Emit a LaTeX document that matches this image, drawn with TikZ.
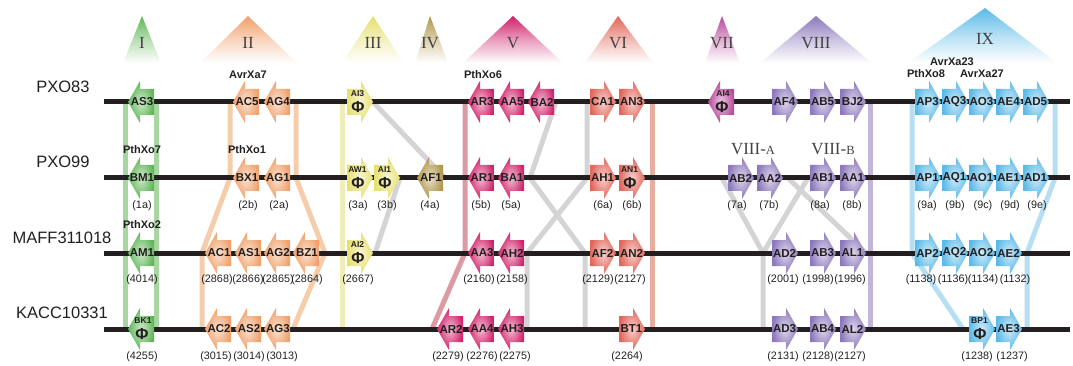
\documentclass[tikz,border=0pt]{standalone}
\usepackage{fontspec}
\setmainfont{Liberation Sans}
\newfontfamily\romfont{Liberation Serif}
\definecolor{gI}{HTML}{5FB656}
\definecolor{gII}{HTML}{F0A06A}
\definecolor{gIII}{HTML}{E6E070}
\definecolor{gIV}{HTML}{B0964A}
\definecolor{gV}{HTML}{D0226A}
\definecolor{gVI}{HTML}{E2665A}
\definecolor{gVII}{HTML}{B8489A}
\definecolor{gVIII}{HTML}{8C78BC}
\definecolor{gIX}{HTML}{5CBAE8}
\definecolor{bI}{HTML}{A8D6A0}
\definecolor{bII}{HTML}{F6CDAA}
\definecolor{bIII}{HTML}{F0EDB8}
\definecolor{bV}{HTML}{DB9AA4}
\definecolor{bVI}{HTML}{E6AE9E}
\definecolor{bVIII}{HTML}{C2B4DA}
\definecolor{bIX}{HTML}{B6DFF3}
\definecolor{bgray}{HTML}{D4D4D6}
\definecolor{txt}{HTML}{231F20}
\definecolor{chromc}{HTML}{231F20}
\tikzset{
  genetext/.style={font=\fontsize{11.5}{13}\selectfont\bfseries, text=txt, inner sep=0pt},
  pstext/.style={font=\fontsize{8.5}{9}\selectfont\bfseries, text=txt, inner sep=0pt},
  phitext/.style={font=\fontsize{16}{17}\selectfont\bfseries, text=txt, inner sep=0pt},
  numtext/.style={font=\fontsize{10.8}{12}\selectfont, text=txt, inner sep=0pt},
  toptext/.style={font=\fontsize{11}{12}\selectfont\bfseries, text=txt, inner sep=0pt},
  strain/.style={font=\fontsize{16.5}{18}\selectfont, text=txt, inner sep=0pt},
  roman/.style={font=\romfont\fontsize{17}{18}\selectfont, text=txt!85, inner sep=0pt},
  chrom/.style={line width=5pt, draw=chromc},
  bandline/.style={line width=5pt, draw=#1, line join=miter},
}
% left-pointing gene: name, tip x, y, colour
\newcommand\gL[4]{%
  \shade[inner color=#4!30!white, outer color=#4] (#2,#3) -- ++(12,-21) -- ++(0,8) -- ++(14,0) -- ++(0,26) -- ++(-14,0) -- ++(0,8) -- cycle;
  \node[genetext] (g-#1) at (#2+14,#3) {#1};}
% right-pointing gene: name, tail x, y, colour
\newcommand\gR[4]{%
  \shade[inner color=#4!30!white, outer color=#4] (#2,#3-13) -- ++(14,0) -- ++(0,-8) -- ++(12,21) -- ++(-12,21) -- ++(0,-8) -- ++(-14,0) -- cycle;
  \node[genetext] (g-#1) at (#2+12.5,#3) {#1};}
% pseudogenes
\newcommand\pL[4]{%
  \shade[inner color=#4!30!white, outer color=#4] (#2,#3) -- ++(12,-21) -- ++(0,8) -- ++(14,0) -- ++(0,26) -- ++(-14,0) -- ++(0,8) -- cycle;
  \node[pstext] (g-#1) at (#2+15,#3-8) {#1};
  \node[phitext] (phi-#1) at (#2+14,#3+5) {Φ};}
\newcommand\pR[4]{%
  \shade[inner color=#4!30!white, outer color=#4] (#2,#3-13) -- ++(14,0) -- ++(0,-8) -- ++(12,21) -- ++(-12,21) -- ++(0,-8) -- ++(-14,0) -- cycle;
  \node[pstext] (g-#1) at (#2+10.5,#3-8) {#1};
  \node[phitext] (phi-#1) at (#2+11,#3+5) {Φ};}
\begin{document}
\begin{tikzpicture}[x=1pt,y=-1pt]
\useasboundingbox (0,0) rectangle (1073,366);
% ---------- cluster triangles ----------
\foreach \c/\ax/\ay/\bl/\br/\lab/\ly in {
  gI/142/16/123/161/I/43, gII/248/16/200/297/II/43, gIII/373/16/342/404/III/43,
  gIV/430/16/415/448/IV/43, gV/513/16/463/563/V/43, gVI/618/16/585/653/VI/43,
  gVII/722/16/705/740/VII/43, gVIII/816/16/760/872/VIII/43, gIX/985/8/908/1057/IX/39}{
  \shade[top color=\c, bottom color=white, middle color=\c!45!white] (\ax,\ay) -- (\br,63) -- (\bl,63) -- cycle;
  \node[roman] (tri-\lab) at (\ax,\ly) {\lab};
}
% ---------- coordinates for bands ----------
\coordinate (gIa1) at (125.5,102); \coordinate (gIa2) at (125.5,329);
\coordinate (gIb1) at (156.5,102); \coordinate (gIb2) at (156.5,329);
\coordinate (oa1) at (230,102); \coordinate (oa2) at (230,178); \coordinate (oa3) at (202,253); \coordinate (oa4) at (202,329);
\coordinate (ob1) at (296,102); \coordinate (ob2) at (296,178); \coordinate (ob3) at (325,253); \coordinate (ob4) at (293,329);
\coordinate (ya1) at (342,102); \coordinate (ya2) at (342,329);
\coordinate (ga1) at (373,102); \coordinate (ga2) at (445,178);
\coordinate (gb1) at (400,178); \coordinate (gb2) at (375,253);
\coordinate (pa1) at (465,102); \coordinate (pa2) at (465,253); \coordinate (pa3) at (432,329);
\coordinate (gc1) at (556,102); \coordinate (gc2) at (530,178); \coordinate (gc3) at (585,253); \coordinate (gc4) at (585,329);
\coordinate (gd1) at (587,102); \coordinate (gd2) at (587,178); \coordinate (gd3) at (527,253); \coordinate (gd4) at (527,329);
\coordinate (sa1) at (652,102); \coordinate (sa2) at (652,329);
\coordinate (va1) at (870,102); \coordinate (va2) at (870,329);
\coordinate (ge1) at (722,178); \coordinate (ge2) at (763,253); \coordinate (ge3) at (763,329);
\coordinate (gf1) at (808,178);
\coordinate (gg1) at (788,178); \coordinate (gg2) at (866,253);
\coordinate (ba1) at (912,102); \coordinate (ba2) at (912,253); \coordinate (ba3) at (963,329);
\coordinate (bb1) at (1055,102); \coordinate (bb2) at (1055,178); \coordinate (bb3) at (1027,253); \coordinate (bb4) at (1027,329);
% ---------- band lines ----------
\draw[bandline=bI] (gIa1) -- (gIa2);
\draw[bandline=bI] (gIb1) -- (gIb2);
\draw[bandline=bII] (oa1) -- (oa2) -- (oa3) -- (oa4);
\draw[bandline=bII] (ob1) -- (ob2) -- (ob3) -- (ob4);
\draw[bandline=bIII] (ya1) -- (ya2);
\draw[bandline=bgray] (ga1) -- (ga2);
\draw[bandline=bgray] (gb1) -- (gb2);
\draw[bandline=bV] (pa1) -- (pa2) -- (pa3);
\draw[bandline=bgray] (gc1) -- (gc2) -- (gc3) -- (gc4);
\draw[bandline=bgray] (gd1) -- (gd2) -- (gd3) -- (gd4);
\draw[bandline=bVI] (sa1) -- (sa2);
\draw[bandline=bVIII] (va1) -- (va2);
\draw[bandline=bgray] (ge1) -- (ge2) -- (ge3);
\draw[bandline=bgray] (gf1) -- (ge2);
\draw[bandline=bgray] (gg1) -- (gg2);
\draw[bandline=bIX] (ba1) -- (ba2) -- (ba3);
\draw[bandline=bIX] (bb1) -- (bb2) -- (bb3) -- (bb4);
% ---------- chromosomes ----------
\foreach \r/\y in {1/102, 2/178, 3/253, 4/329}{
  \coordinate (s\r) at (104,\y); \coordinate (e\r) at (1070,\y);
  \draw[chrom] (s\r) -- (e\r);
}
% ---------- strain names ----------
\node[strain] (PXO83) at (63,87) {PXO83};
\node[strain] (PXO99) at (63,162) {PXO99};
\node[strain] (MAFF) at (62,238) {MAFF311018};
\node[strain] (KACC) at (62,313) {KACC10331};
% ---------- row 1 ----------
\gL{AS3}{128}{102}{gI}
\foreach \n/\x in {AC5/233, AG4/264} {\gL{\n}{\x}{102}{gII}}
\pR{AI3}{347}{102}{gIII}
\foreach \n/\x in {AR3/468, AA5/498, BA2/528} {\gL{\n}{\x}{102}{gV}}
\foreach \n/\x in {CA1/590, AN3/619} {\gR{\n}{\x}{102}{gVI}}
\pL{AI4}{708}{102}{gVII}
\foreach \n/\x in {AF4/772, AB5/810, BJ2/840} {\gR{\n}{\x}{102}{gVIII}}
\foreach \n/\x in {AP3/915, AQ3/942, AO3/969, AE4/996, AD5/1023} {\gR{\n}{\x}{102}{gIX}}
% ---------- row 2 ----------
\gL{BM1}{128}{178}{gI}
\foreach \n/\x in {BX1/233, AG1/264} {\gL{\n}{\x}{178}{gII}}
\pR{AW1}{347}{178}{gIII}
\pR{AI1}{374}{178}{gIII}
\gL{AF1}{417}{178}{gIV}
\foreach \n/\x in {AR1/468, BA1/498} {\gL{\n}{\x}{178}{gV}}
\gR{AH1}{590}{178}{gVI}
\pR{AN1}{619}{178}{gVI}
\foreach \n/\x in {AB2/728, AA2/757, AB1/810, AA1/840} {\gR{\n}{\x}{178}{gVIII}}
\foreach \n/\x in {AP1/915, AQ1/942, AO1/969, AE1/996, AD1/1023} {\gR{\n}{\x}{178}{gIX}}
% ---------- row 3 ----------
\gL{AM1}{128}{253}{gI}
\foreach \n/\x in {AC1/205, AS1/235, AG2/264, BZ1/293} {\gL{\n}{\x}{253}{gII}}
\pR{AI2}{347}{253}{gIII}
\foreach \n/\x in {AA3/468, AH2/498} {\gL{\n}{\x}{253}{gV}}
\foreach \n/\x in {AF2/590, AN2/619} {\gR{\n}{\x}{253}{gVI}}
\foreach \n/\x in {AD2/772, AB3/810, AL1/840} {\gR{\n}{\x}{253}{gVIII}}
\foreach \n/\x in {AP2/915, AQ2/942, AO2/969, AE2/996} {\gR{\n}{\x}{253}{gIX}}
% ---------- row 4 ----------
\pL{BK1}{128}{329}{gI}
\foreach \n/\x in {AC2/205, AS2/235, AG3/264} {\gL{\n}{\x}{329}{gII}}
\foreach \n/\x in {AR2/437, AA4/468, AH3/498} {\gL{\n}{\x}{329}{gV}}
\gR{BT1}{619}{329}{gVI}
\foreach \n/\x in {AD3/772, AB4/810, AL2/840} {\gR{\n}{\x}{329}{gVIII}}
\pR{BP1}{969}{329}{gIX}
\gR{AE3}{996}{329}{gIX}
% ---------- effector names ----------
\node[toptext] (AvrXa7) at (248,75) {AvrXa7};
\node[toptext] (PthXo6) at (483,75) {PthXo6};
\node[toptext] (AvrXa23) at (952,62) {AvrXa23};
\node[toptext] (PthXo8) at (926,74) {PthXo8};
\node[toptext] (AvrXa27) at (982,74) {AvrXa27};
\node[toptext] (PthXo7) at (142,150) {PthXo7};
\node[toptext] (PthXo1) at (247,150) {PthXo1};
\node[toptext] (PthXo2) at (142,225) {PthXo2};
\node[roman] (VIIIA) at (753,149) {VIII-{\fontsize{12.5}{13}\selectfont A}};
\node[roman] (VIIIB) at (833,149) {VIII-{\fontsize{12.5}{13}\selectfont B}};
% ---------- numbers ----------
\foreach \t/\x in {1a/142, 2b/248, 2a/279, 3a/358, 3b/387, 4a/430, 5b/481, 5a/511, 6a/603, 6b/632, 7a/737, 7b/769, 8a/820, 8b/852, 9a/927, 9b/955, 9c/983, 9d/1010, 9e/1037}
  {\node[numtext] (n2-\t) at (\x,206) {(\t)};}
\foreach \t/\x in {4014/142, 2868/217, 2866/248, 2865/278, 2864/307, 2667/358, 2160/479, 2158/512, 2129/598, 2127/630, 2001/783, 1998/818, 1996/850, 1138/921, 1136/953, 1134/983, 1132/1015}
  {\node[numtext] (n3-\t) at (\x,280) {(\t)};}
\foreach \t/\x in {4255/142, 3015/216, 3014/249, 3013/282, 2279/448, 2276/482, 2275/515, 2264/627, 2131/783, 2128/818, 2127/850, 1238/977, 1237/1012}
  {\node[numtext] (n4-\t) at (\x,357) {(\t)};}
\end{tikzpicture}
\end{document}
